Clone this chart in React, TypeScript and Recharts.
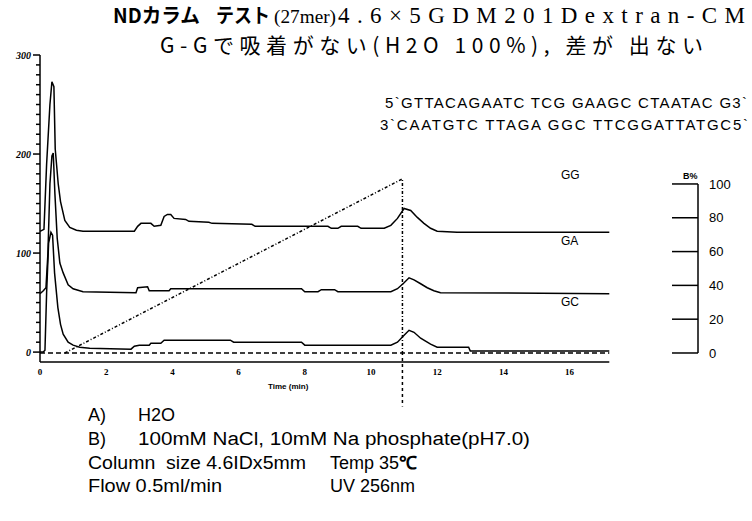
import React from "react";
import { ComposedChart, Line, XAxis, YAxis, ReferenceLine } from "recharts";

// time axis (min)
const X_MAX = 19.88;
const X_END = 17.2;
const TIME_TICKS = [0, 2, 4, 6, 8, 10, 12, 14, 16];

// absorbance axis (left) and B% axis (right)
const SIGNAL_LABELS = [0, 100, 200, 300];
const SIGNAL_TICKS = Array.from({ length: 31 }, (_, i) => i * 10);
const PERCENT_TICKS = [0, 20, 40, 60, 80, 100];

// [time, signal]
const ggTrace: [number, number][] = [
  [0, 122], [0.12, 124], [0.2, 190], [0.3, 250], [0.36, 273], [0.42, 268],
  [0.46, 205], [0.55, 170], [0.62, 152], [0.75, 133], [0.9, 126], [1.1, 123],
  [1.3, 122], [2.85, 122], [2.95, 127], [3.05, 130], [3.35, 130], [3.45, 127],
  [3.65, 128], [3.75, 137], [3.85, 139], [3.95, 139], [4.05, 135], [4.4, 134],
  [4.5, 132], [5.1, 131], [5.2, 130], [6.4, 129], [6.5, 127], [8.7, 127],
  [8.8, 125], [9.0, 125], [9.1, 127], [9.6, 127], [9.7, 125], [10.4, 125],
  [10.6, 128], [10.8, 135], [11.0, 145], [11.2, 143], [11.4, 136], [11.6, 130],
  [11.8, 125], [12.0, 122], [12.6, 121], [17.2, 121],
];

const gaTrace: [number, number][] = [
  [0, 59], [0.1, 62], [0.18, 65], [0.24, 100], [0.3, 170], [0.36, 198],
  [0.4, 201], [0.45, 160], [0.52, 115], [0.6, 90], [0.7, 80], [0.85, 68],
  [1.0, 64], [1.3, 61], [2.9, 60], [2.95, 65], [3.25, 66], [3.3, 62],
  [3.9, 62], [3.95, 64], [7.9, 64], [8.0, 61], [8.4, 61], [8.5, 63],
  [8.9, 63], [9.0, 61], [10.6, 61], [10.8, 64], [11.0, 70], [11.15, 75],
  [11.3, 73], [11.5, 69], [11.7, 65], [11.9, 62], [12.1, 60], [17.2, 59],
];

const gcTrace: [number, number][] = [
  [0, 0], [0.1, 0], [0.15, 2], [0.2, 60], [0.26, 110], [0.33, 121],
  [0.38, 118], [0.44, 80], [0.54, 45], [0.62, 28], [0.7, 18], [0.85, 10],
  [1.0, 7], [1.2, 5], [1.5, 4], [2.75, 3], [2.85, 6], [3.0, 7], [3.3, 7],
  [3.35, 9], [3.65, 9], [3.75, 12], [5.75, 12], [5.85, 10], [7.9, 10],
  [8.0, 7], [10.6, 7], [10.8, 10], [11.0, 17], [11.15, 22], [11.3, 20],
  [11.5, 14], [11.8, 8], [12.0, 5], [12.95, 5], [13.0, 1], [17.2, 1],
];

// gradient program, B %
const gradient: [number, number][] = [[0.75, 0], [10.95, 103], [10.95, 0]];
const gradientBase: [number, number][] = [[0, 0], [17.2, 0]];

const toRows = (pts: [number, number][]) => pts.map(([t, v]) => ({ t, v }));

function SignalTick({ x, y, payload }: any) {
  const major = SIGNAL_LABELS.includes(payload.value);
  return (
    <g>
      <line x1={x - (major ? 7 : 4)} x2={x} y1={y} y2={y} stroke="#000" strokeWidth={1.5} />
      {major && (
        <text
          x={x - 9}
          y={y}
          dy="0.35em"
          textAnchor="end"
          fontSize={10}
          fontStyle="italic"
          fontWeight={700}
          fontFamily="Liberation Serif"
          fill="#000"
        >
          {payload.value}
        </text>
      )}
    </g>
  );
}

function PercentTick({ x, y, payload }: any) {
  return (
    <g>
      <line x1={x - 26} x2={x} y1={y} y2={y} stroke="#000" strokeWidth={1.5} />
      <text x={x + 11} y={y} dy="0.35em" fontSize={13} fontFamily="Liberation Sans" fill="#000">
        {payload.value}
      </text>
    </g>
  );
}

function TimeTick({ x, y, payload }: any) {
  return (
    <text x={x} y={y + 9} textAnchor="middle" fontSize={9} fontWeight={700} fontFamily="Liberation Serif" fill="#000">
      {payload.value}
    </text>
  );
}

const sans = "Liberation Sans, Arial, sans-serif";
const jp = "Noto Sans CJK JP";

export default function App() {
  return (
    <div style={{ position: "absolute", left: 0, top: 0, width: 752, height: 521, background: "#fff" }}>
      <ComposedChart width={752} height={521} margin={{ top: 55, right: 14, bottom: 129, left: 10 }}>
        <XAxis
          type="number"
          dataKey="t"
          domain={[0, X_MAX]}
          ticks={TIME_TICKS}
          interval={0}
          allowDataOverflow
          axisLine={false}
          tickLine={false}
          tickSize={0}
          tickMargin={4}
          height={30}
          tick={<TimeTick />}
        />
        <YAxis
          yAxisId="left"
          domain={[-10, 300]}
          ticks={SIGNAL_TICKS}
          interval={0}
          allowDataOverflow
          width={30}
          tickLine={false}
          tickSize={0}
          tickMargin={0}
          axisLine={{ stroke: "#000", strokeWidth: 1.5 }}
          tick={<SignalTick />}
        />
        <YAxis
          yAxisId="right"
          orientation="right"
          domain={[-5.33, 176.3]}
          ticks={PERCENT_TICKS}
          interval={0}
          allowDataOverflow
          width={40}
          axisLine={false}
          tickLine={false}
          tickSize={0}
          tickMargin={0}
          tick={<PercentTick />}
        />

        {/* x axis line, stops where the run ends */}
        <ReferenceLine
          yAxisId="left"
          segment={[{ x: 0, y: -10 }, { x: X_END, y: -10 }]}
          stroke="#000"
          strokeWidth={1.5}
          ifOverflow="visible"
        />
        {/* B% axis line */}
        <ReferenceLine
          yAxisId="right"
          segment={[{ x: X_MAX, y: 0 }, { x: X_MAX, y: 100 }]}
          stroke="#000"
          strokeWidth={1.5}
          ifOverflow="visible"
        />
        {/* gradient end marker running below the axis */}
        <ReferenceLine
          yAxisId="left"
          segment={[{ x: 10.95, y: 0 }, { x: 10.95, y: -55 }]}
          stroke="#000"
          strokeWidth={1.5}
          strokeDasharray="3 3"
          ifOverflow="visible"
        />

        <Line yAxisId="right" data={toRows(gradientBase)} dataKey="v" type="linear" stroke="#000"
          strokeWidth={1.5} strokeDasharray="5 3" dot={false} isAnimationActive={false} />
        <Line yAxisId="right" data={toRows(gradient)} dataKey="v" type="linear" stroke="#000"
          strokeWidth={1.5} strokeDasharray="3 2 1 2" dot={false} isAnimationActive={false} />
        <Line yAxisId="left" data={toRows(gcTrace)} dataKey="v" type="linear" stroke="#000"
          strokeWidth={1.5} dot={false} isAnimationActive={false} />
        <Line yAxisId="left" data={toRows(gaTrace)} dataKey="v" type="linear" stroke="#000"
          strokeWidth={1.5} dot={false} isAnimationActive={false} />
        <Line yAxisId="left" data={toRows(ggTrace)} dataKey="v" type="linear" stroke="#000"
          strokeWidth={1.5} dot={false} isAnimationActive={false} />
      </ComposedChart>

      <svg width={752} height={521} style={{ position: "absolute", left: 0, top: 0, pointerEvents: "none" }}>
        <text x={113} y={23} fontFamily={jp} fontWeight={700} fontSize={20} textLength={87} lengthAdjust="spacingAndGlyphs">NDカラム</text>
        <text x={216} y={23} fontFamily={jp} fontWeight={700} fontSize={20} textLength={54} lengthAdjust="spacingAndGlyphs">テスト</text>
        <text x={274} y={23} fontFamily="Liberation Serif" fontSize={19} textLength={62} lengthAdjust="spacingAndGlyphs">(27mer)</text>
        <text x={338} y={23} fontFamily="Liberation Serif" fontSize={23} textLength={407} lengthAdjust="spacing">4.6×5GDM201Dextran-CM</text>

        <text x={160} y={53} fontFamily={jp} fontSize={21} textLength={543} lengthAdjust="spacing">G-Gで吸着がない(H2O 100%), 差が 出ない</text>

        <text x={385} y={108} fontFamily={sans} fontSize={15} textLength={362} lengthAdjust="spacing">5`GTTACAGAATC TCG GAAGC CTAATAC G3`</text>
        <text x={380} y={130} fontFamily={sans} fontSize={15} textLength={368} lengthAdjust="spacing">3`CAATGTC TTAGA GGC TTCGGATTATGC5`</text>

        <text x={561} y={179} fontFamily={sans} fontSize={12}>GG</text>
        <text x={561} y={245} fontFamily={sans} fontSize={12}>GA</text>
        <text x={561} y={306} fontFamily={sans} fontSize={12}>GC</text>

        <text x={683} y={179} fontFamily={sans} fontSize={9} fontWeight={700}>B%</text>
        <text x={268} y={389} fontFamily={sans} fontSize={8} fontWeight={700}>Time (min)</text>

        <text x={88} y={421} fontFamily={sans} fontSize={18}>A)</text>
        <text x={138} y={421} fontFamily={sans} fontSize={18}>H2O</text>
        <text x={88} y={445} fontFamily={sans} fontSize={18}>B)</text>
        <text x={138} y={445} fontFamily={sans} fontSize={18} textLength={392} lengthAdjust="spacingAndGlyphs">100mM NaCl, 10mM Na phosphate(pH7.0)</text>
        <text x={88} y={469} fontFamily={sans} fontSize={18} textLength={218} lengthAdjust="spacingAndGlyphs">{"Column\u00a0 size 4.6IDx5mm"}</text>
        <text x={330} y={469} fontFamily={sans} fontSize={18}>Temp 35<tspan fontWeight={700}>℃</tspan></text>
        <text x={88} y={492} fontFamily={sans} fontSize={18} textLength={134} lengthAdjust="spacingAndGlyphs">Flow 0.5ml/min</text>
        <text x={330} y={492} fontFamily={sans} fontSize={18}>UV 256nm</text>
      </svg>
    </div>
  );
}
